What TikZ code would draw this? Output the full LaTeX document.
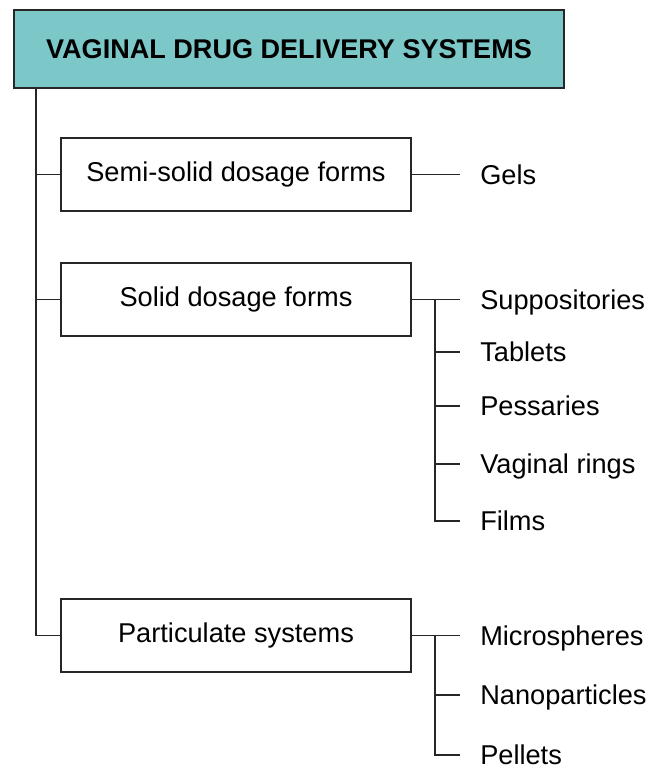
\documentclass[tikz,border=0pt]{standalone}
\usepackage{fontspec}
\setmainfont{Liberation Sans}
\definecolor{vddsteal}{RGB}{124,200,200}
\begin{document}
\begin{tikzpicture}[x=0.75pt,y=-0.75pt]
        \tikzstyle{title}=[rectangle,draw=black!85,line width=1.1pt,fill=vddsteal,minimum width=412.5pt,minimum height=58.5pt,font=\bfseries\fontsize{20.3}{24}\selectfont]
        \tikzstyle{category}=[rectangle,draw=black!85,line width=1.1pt,fill=white,minimum width=262.5pt,minimum height=54.75pt,font=\fontsize{20.4}{24}\selectfont]
        \tikzstyle{item}=[anchor=west,inner xsep=15pt,inner ysep=0pt,text height=14.5pt,text depth=0pt,font=\fontsize{20.4}{24}\selectfont]
        \tikzstyle{edge}=[draw,line width=1.1pt,black!85]
        \useasboundingbox (0,0) rectangle (649,769);
        % main box and categories
        \node [title] (vdds) at (289,49) {VAGINAL DRUG DELIVERY SYSTEMS};
        \node [category] (semi) at (236,174.5) {Semi-solid dosage forms};
        \node [category] (solid) at (236,299.5) {Solid dosage forms};
        \node [category] (partic) at (236,635.5) {Particulate systems};
        % items
        \node [item] (gels) at (460,174.5) {Gels};
        \node [item] (supp) at (460,299.5) {Suppositories};
        \node [item] (tabl) at (460,352) {Tablets};
        \node [item] (pess) at (460,406) {Pessaries};
        \node [item] (ring) at (460,464) {Vaginal rings};
        \node [item] (film) at (460,521) {Films};
        \node [item] (micro) at (460,635.5) {Microspheres};
        \node [item] (nano) at (460,695) {Nanoparticles};
        \node [item] (pell) at (460,755) {Pellets};
        % junctions
        \coordinate (trunk) at (36,88);
        \coordinate (sj) at (435,299.5);
        \coordinate (pj) at (435,635.5);
        \path[edge] (trunk) |- (semi.west);
        \path[edge] (trunk) |- (solid.west);
        \path[edge] (trunk) |- (partic.west);
        \path[edge] (semi.east) -- (gels.west);
        \path[edge] (solid.east) -- (supp.west);
        \path[edge] (sj) |- (tabl.west);
        \path[edge] (sj) |- (pess.west);
        \path[edge] (sj) |- (ring.west);
        \path[edge] (sj) |- (film.west);
        \path[edge] (partic.east) -- (micro.west);
        \path[edge] (pj) |- (nano.west);
        \path[edge] (pj) |- (pell.west);
\end{tikzpicture}
\end{document}
